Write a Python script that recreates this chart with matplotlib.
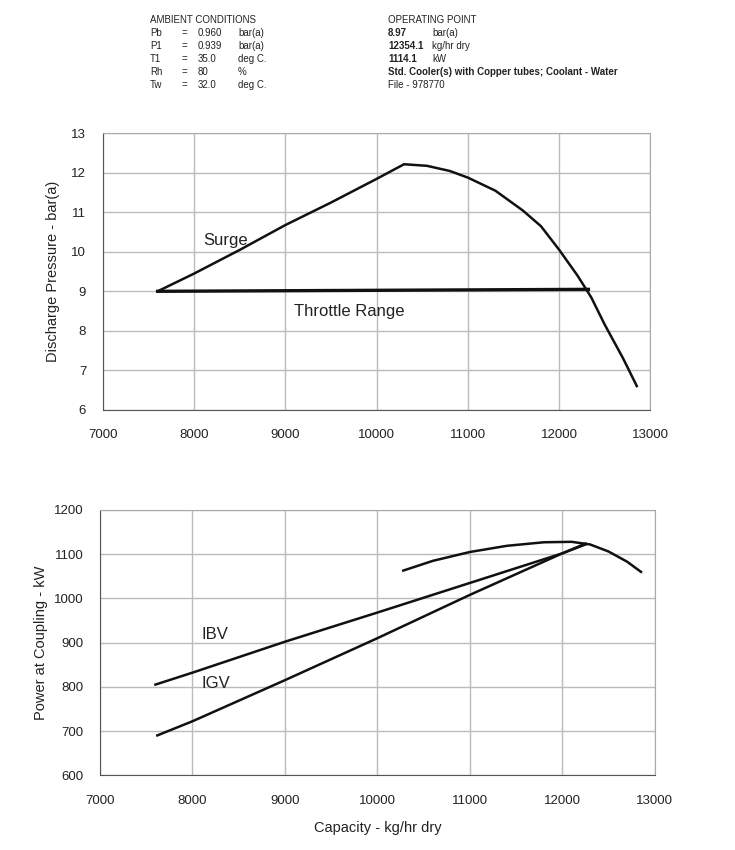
import numpy as np
import matplotlib.pyplot as plt

plt.rcParams['font.family'] = ['Liberation Sans', 'DejaVu Sans']

# top chart: discharge pressure vs capacity
curve_x = [7600, 8000, 8500, 9000, 9500, 10000, 10300, 10550, 10800, 11000, 11300,
           11600, 11800, 12000, 12200, 12350, 12500, 12700, 12850]
curve_p = [9.0, 9.45, 10.05, 10.68, 11.25, 11.85, 12.22, 12.18, 12.05, 11.88, 11.55,
           11.05, 10.65, 10.05, 9.4, 8.85, 8.15, 7.3, 6.6]
throttle_x = [7600, 12320]
throttle_p = [9.0, 9.05]

# bottom chart: power at coupling vs capacity
ibv_x = [7600, 8000, 9000, 10000, 11000, 12000, 12250]
ibv_kw = [805, 832, 902, 968, 1035, 1102, 1122]
igv_x = [7620, 8000, 9000, 10000, 11000, 12000, 12250]
igv_kw = [690, 722, 815, 910, 1008, 1102, 1124]
perf_x = [10280, 10600, 11000, 11400, 11800, 12100, 12300, 12500, 12700, 12850]
perf_kw = [1063, 1085, 1105, 1119, 1127, 1128, 1122, 1106, 1083, 1060]

ambient = [("Pb", "0.960", "bar(a)"), ("P1", "0.939", "bar(a)"), ("T1", "35.0", "deg C."),
           ("Rh", "80", "%"), ("Tw", "32.0", "deg C.")]
operating = [("8.97", "bar(a)"), ("12354.1", "kg/hr dry"), ("1114.1", "kW")]

fig = plt.figure(figsize=(7.35, 8.5), dpi=100)
ink = '#222222'

def px(x, y):
    return x / 735, 1 - y / 850

# header text
hs = 7
fig.text(*px(150, 20), "AMBIENT CONDITIONS", fontsize=hs, color=ink, va='center')
for i, (a, v, u) in enumerate(ambient):
    y = 33 + i * 13
    fig.text(*px(150, y), a, fontsize=hs, color=ink, va='center')
    fig.text(*px(182, y), "=", fontsize=hs, color=ink, va='center')
    fig.text(*px(198, y), v, fontsize=hs, color=ink, va='center')
    fig.text(*px(238, y), u, fontsize=hs, color=ink, va='center')
fig.text(*px(388, 20), "OPERATING POINT", fontsize=hs, color=ink, va='center')
for i, (v, u) in enumerate(operating):
    y = 33 + i * 13
    fig.text(*px(388, y), v, fontsize=hs, color=ink, va='center', fontweight='bold')
    fig.text(*px(432, y), u, fontsize=hs, color=ink, va='center')
fig.text(*px(388, 72), "Std. Cooler(s) with Copper tubes; Coolant - Water", fontsize=hs,
         color=ink, va='center', fontweight='bold')
fig.text(*px(388, 85), "File - 978770", fontsize=hs, color=ink, va='center')

def style(ax):
    ax.grid(True, color='#bbbbbb', linewidth=1.0)
    for s in ['top', 'right']:
        ax.spines[s].set_color('#aaaaaa')
    for s in ['left', 'bottom']:
        ax.spines[s].set_color('#555555')
    ax.tick_params(length=0, labelsize=9.5, colors=ink)
    ax.tick_params(axis='x', pad=14)
    ax.tick_params(axis='y', pad=12)

ax1 = fig.add_axes([0.140, 0.518, 0.745, 0.325])
ax1.plot(curve_x, curve_p, color='#111111', lw=1.8)
ax1.plot(throttle_x, throttle_p, color='#111111', lw=2.4)
ax1.set_xlim(7000, 13000)
ax1.set_ylim(6, 13)
ax1.set_xticks(np.arange(7000, 13001, 1000))
ax1.set_yticks(np.arange(6, 14, 1))
ax1.set_ylabel("Discharge Pressure - bar(a)", fontsize=10.5, color=ink, labelpad=8)
ax1.text(8100, 10.3, "Surge", fontsize=12, color=ink, va='center')
ax1.text(9700, 8.5, "Throttle Range", fontsize=12, color=ink, ha='center', va='center')
style(ax1)

ax2 = fig.add_axes([0.136, 0.088, 0.755, 0.312])
ax2.plot(ibv_x, ibv_kw, color='#111111', lw=1.8)
ax2.plot(igv_x, igv_kw, color='#111111', lw=1.8)
ax2.plot(perf_x, perf_kw, color='#111111', lw=1.8)
ax2.set_xlim(7000, 13000)
ax2.set_ylim(600, 1200)
ax2.set_xticks(np.arange(7000, 13001, 1000))
ax2.set_yticks(np.arange(600, 1201, 100))
ax2.set_ylabel("Power at Coupling - kW", fontsize=10.5, color=ink, labelpad=4)
ax2.set_xlabel("Capacity - kg/hr dry", fontsize=10.5, color=ink, labelpad=10)
ax2.text(8100, 918, "IBV", fontsize=12, color=ink, va='center')
ax2.text(8100, 808, "IGV", fontsize=12, color=ink, va='center')
style(ax2)

fig.savefig("out.png", dpi=100)
